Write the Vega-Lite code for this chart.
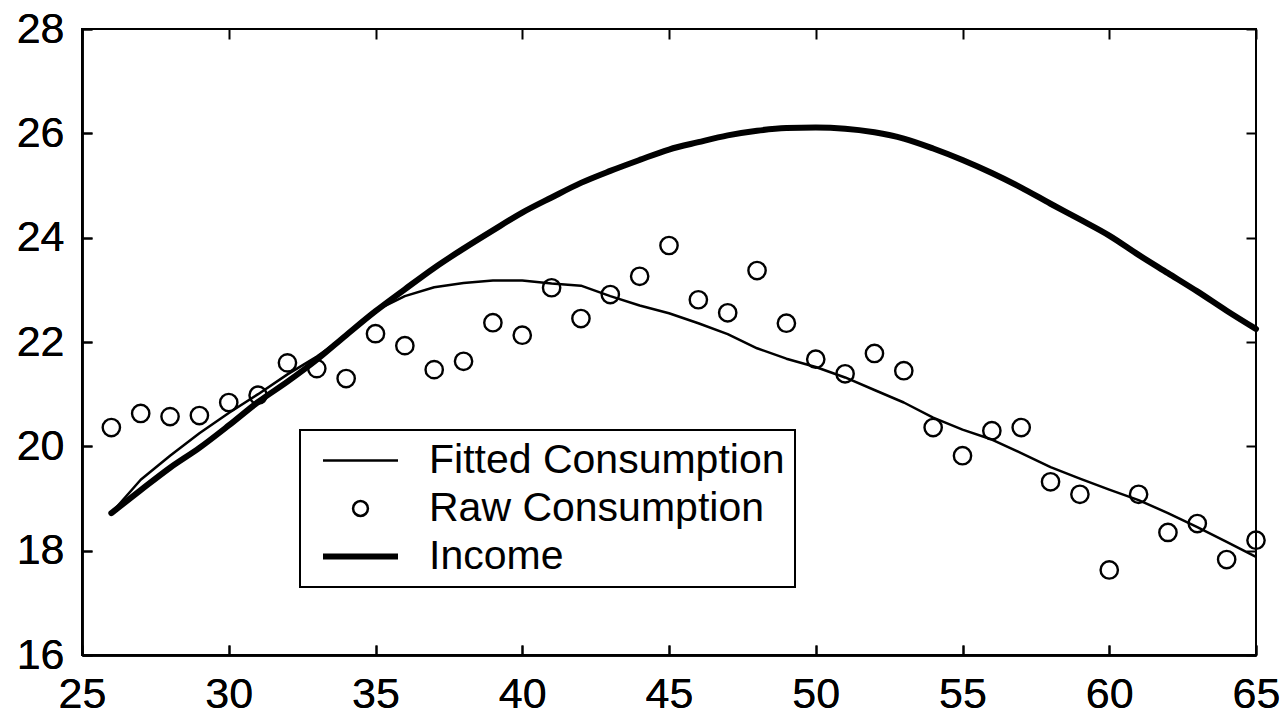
{
  "$schema": "https://vega.github.io/schema/vega-lite/v6.json",
  "width": 1174,
  "height": 626,
  "autosize": {"type": "none"},
  "padding": {"left": 82, "top": 29, "right": 26, "bottom": 60},
  "background": "white",
  "config": {
    "font": "Liberation Sans",
    "view": {"stroke": "black", "strokeWidth": 2},
    "axis": {
      "grid": false,
      "title": null,
      "domainColor": "black",
      "domainWidth": 2.5,
      "tickColor": "black",
      "tickWidth": 2,
      "tickSize": -10,
      "labelFont": "Liberation Sans",
      "labelFontSize": 43,
      "labelColor": "black",
      "labelPadding": 28,
      "labelFlush": false,
      "labelOverlap": false
    }
  },
  "data": {
    "values": [
      {"age": 26, "raw": 20.36, "fitted": 18.72, "income": 18.72},
      {"age": 27, "raw": 20.63, "fitted": 19.36, "income": 19.16},
      {"age": 28, "raw": 20.57, "fitted": 19.82, "income": 19.59},
      {"age": 29, "raw": 20.59, "fitted": 20.25, "income": 19.97},
      {"age": 30, "raw": 20.84, "fitted": 20.64, "income": 20.40},
      {"age": 31, "raw": 20.98, "fitted": 21.00, "income": 20.85},
      {"age": 32, "raw": 21.60, "fitted": 21.38, "income": 21.24},
      {"age": 33, "raw": 21.49, "fitted": 21.72, "income": 21.66},
      {"age": 34, "raw": 21.30, "fitted": 22.12, "income": 22.13},
      {"age": 35, "raw": 22.16, "fitted": 22.60, "income": 22.59},
      {"age": 36, "raw": 21.93, "fitted": 22.88, "income": 23.01},
      {"age": 37, "raw": 21.47, "fitted": 23.05, "income": 23.42},
      {"age": 38, "raw": 21.63, "fitted": 23.13, "income": 23.79},
      {"age": 39, "raw": 22.37, "fitted": 23.18, "income": 24.14},
      {"age": 40, "raw": 22.13, "fitted": 23.18, "income": 24.48},
      {"age": 41, "raw": 23.04, "fitted": 23.12, "income": 24.77},
      {"age": 42, "raw": 22.45, "fitted": 23.08, "income": 25.05},
      {"age": 43, "raw": 22.91, "fitted": 22.88, "income": 25.28},
      {"age": 44, "raw": 23.26, "fitted": 22.70, "income": 25.49},
      {"age": 45, "raw": 23.85, "fitted": 22.55, "income": 25.69},
      {"age": 46, "raw": 22.81, "fitted": 22.36, "income": 25.83},
      {"age": 47, "raw": 22.56, "fitted": 22.15, "income": 25.96},
      {"age": 48, "raw": 23.37, "fitted": 21.88, "income": 26.05},
      {"age": 49, "raw": 22.36, "fitted": 21.68, "income": 26.10},
      {"age": 50, "raw": 21.67, "fitted": 21.52, "income": 26.11},
      {"age": 51, "raw": 21.39, "fitted": 21.32, "income": 26.09},
      {"age": 52, "raw": 21.78, "fitted": 21.08, "income": 26.02},
      {"age": 53, "raw": 21.45, "fitted": 20.84, "income": 25.90},
      {"age": 54, "raw": 20.36, "fitted": 20.55, "income": 25.71},
      {"age": 55, "raw": 19.82, "fitted": 20.32, "income": 25.49},
      {"age": 56, "raw": 20.30, "fitted": 20.13, "income": 25.24},
      {"age": 57, "raw": 20.36, "fitted": 19.87, "income": 24.96},
      {"age": 58, "raw": 19.32, "fitted": 19.60, "income": 24.65},
      {"age": 59, "raw": 19.08, "fitted": 19.38, "income": 24.35},
      {"age": 60, "raw": 17.63, "fitted": 19.17, "income": 24.04},
      {"age": 61, "raw": 19.08, "fitted": 18.97, "income": 23.67},
      {"age": 62, "raw": 18.35, "fitted": 18.72, "income": 23.32},
      {"age": 63, "raw": 18.52, "fitted": 18.45, "income": 22.97},
      {"age": 64, "raw": 17.83, "fitted": 18.17, "income": 22.60},
      {"age": 65, "raw": 18.20, "fitted": 17.88, "income": 22.25}
    ]
  },
  "layer": [
    {
      "mark": {"type": "line", "strokeWidth": 6, "strokeCap": "round", "strokeJoin": "round", "interpolate": "monotone"},
      "encoding": {
        "x": {
          "field": "age", "type": "quantitative",
          "scale": {"domain": [25, 65], "nice": false, "zero": false},
          "axis": {"orient": "bottom", "values": [25, 30, 35, 40, 45, 50, 55, 60, 65]}
        },
        "y": {
          "field": "income", "type": "quantitative",
          "scale": {"domain": [16, 28], "nice": false, "zero": false},
          "axis": {"orient": "left", "values": [16, 18, 20, 22, 24, 26, 28]}
        },
        "color": {
          "datum": "Income",
          "scale": {"domain": ["Fitted Consumption", "Raw Consumption", "Income"], "range": ["black", "black", "black"]},
          "legend": {
            "orient": "none",
            "legendX": 218,
            "legendY": 401,
            "title": null,
            "labelFont": "Liberation Sans",
            "labelFontSize": 41,
            "labelColor": "black",
            "labelLimit": 0,
            "symbolType": "stroke",
            "symbolSize": 5625,
            "symbolStrokeColor": "black",
            "symbolStrokeWidth": 2.5,
            "symbolOffset": 30,
            "labelOffset": 48,
            "rowPadding": 6,
            "padding": 10,
            "strokeColor": "black",
            "fillColor": "white",
            "encode": {
              "legend": {"update": {"strokeWidth": {"value": 2}}},
              "symbols": {
                "update": {
                  "shape": {"signal": "datum.value === 'Raw Consumption' ? 'circle' : 'stroke'"},
                  "size": {"signal": "datum.value === 'Raw Consumption' ? 220 : 5625"},
                  "strokeWidth": {"signal": "datum.value === 'Income' ? 6 : 2.5"},
                  "stroke": {"value": "black"},
                  "fill": {"value": "transparent"}
                }
              }
            }
          }
        }
      }
    },
    {
      "mark": {"type": "line", "strokeWidth": 2.5, "strokeJoin": "round"},
      "encoding": {
        "x": {
          "field": "age", "type": "quantitative",
          "axis": {"orient": "top", "values": [25, 30, 35, 40, 45, 50, 55, 60, 65], "labels": false, "domain": false}
        },
        "y": {
          "field": "fitted", "type": "quantitative",
          "axis": {"orient": "right", "values": [16, 18, 20, 22, 24, 26, 28], "labels": false, "domain": false}
        },
        "color": {"datum": "Fitted Consumption"}
      }
    },
    {
      "mark": {"type": "point", "filled": false, "size": 300, "strokeWidth": 2.4, "opacity": 1},
      "encoding": {
        "x": {
          "field": "age", "type": "quantitative",
          "axis": {"orient": "bottom", "values": [25, 30, 35, 40, 45, 50, 55, 60, 65]}
        },
        "y": {
          "field": "raw", "type": "quantitative",
          "axis": {"orient": "left", "values": [16, 18, 20, 22, 24, 26, 28]}
        },
        "color": {"datum": "Raw Consumption"}
      }
    }
  ]
}
